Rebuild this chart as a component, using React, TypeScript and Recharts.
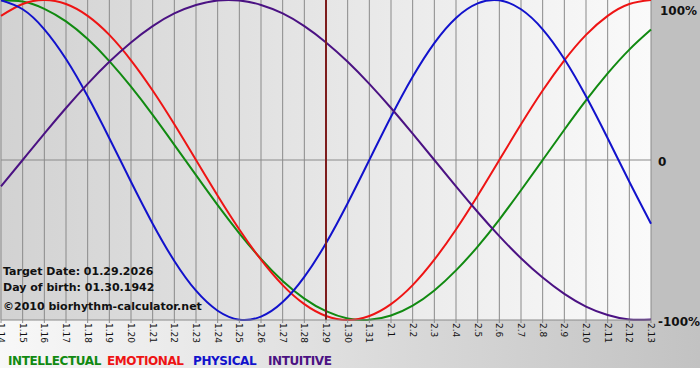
import React from "react";
import { LineChart, Line, XAxis, YAxis, CartesianGrid, ReferenceLine } from "recharts";

// Jan 14 .. Feb 13 (one point per day)
const days = [
  "1.14", "1.15", "1.16", "1.17", "1.18", "1.19", "1.20", "1.21", "1.22", "1.23",
  "1.24", "1.25", "1.26", "1.27", "1.28", "1.29", "1.30", "1.31", "2.1", "2.2",
  "2.3", "2.4", "2.5", "2.6", "2.7", "2.8", "2.9", "2.10", "2.11", "2.12", "2.13",
];

const intellectual = [
  99.9, 99.0, 94.5, 86.6, 75.6, 61.8, 45.8, 28.2, 9.5, -9.5,
  -28.2, -45.8, -61.8, -75.6, -86.6, -94.5, -99.0, -99.9, -97.2, -91.0,
  -81.5, -69.0, -54.1, -37.2, -18.9, 0, 18.9, 37.2, 54.1, 69.0, 81.5,
];
const emotional = [
  90.1, 97.5, 100, 97.5, 90.1, 78.2, 62.3, 43.4, 22.3, 0,
  -22.3, -43.4, -62.3, -78.2, -90.1, -97.5, -100, -97.5, -90.1, -78.2,
  -62.3, -43.4, -22.3, 0, 22.3, 43.4, 62.3, 78.2, 90.1, 97.5, 100,
];
const physical = [
  99.8, 94.2, 81.7, 63.1, 39.8, 13.6, -13.6, -39.8, -63.1, -81.7,
  -94.2, -99.8, -97.9, -88.8, -73.1, -52.0, -27.0, 0, 27.0, 52.0,
  73.1, 88.8, 97.9, 99.8, 94.2, 81.7, 63.1, 39.8, 13.6, -13.6, -39.8,
];
const intuitive = [
  -16.5, 0, 16.5, 32.5, 47.6, 61.4, 73.5, 83.7, 91.6, 96.9,
  99.7, 99.7, 96.9, 91.6, 83.7, 73.5, 61.4, 47.6, 32.5, 16.5,
  0, -16.5, -32.5, -47.6, -61.4, -73.5, -83.7, -91.6, -96.9, -99.7, -99.7,
];

const yTicks = [-100, 0, 100];
const targetDay = "1.29";
const infoLines = ["Target Date: 01.29.2026", "Day of birth: 01.30.1942", "\u00a92010 biorhythm-calculator.net"];

const series = [
  { key: "intellectual", label: "INTELLECTUAL", color: "#118a11", left: 8 },
  { key: "emotional", label: "EMOTIONAL", color: "#ee1414", left: 107 },
  { key: "physical", label: "PHYSICAL", color: "#1212cc", left: 193 },
  { key: "intuitive", label: "INTUITIVE", color: "#4b1283", left: 268 },
];

const data = days.map((day, i) => ({
  i,
  day,
  intellectual: intellectual[i],
  emotional: emotional[i],
  physical: physical[i],
  intuitive: intuitive[i],
}));

const font = "'DejaVu Sans', Verdana, sans-serif";

function DayTick(props: any) {
  const { x, y, payload } = props;
  return (
    <text
      x={x}
      y={y}
      transform={`rotate(90, ${x}, ${y})`}
      dy="0.35em"
      textAnchor="start"
      fontSize={9}
      fontFamily={font}
      fill="#111"
    >
      {days[payload.value]}
    </text>
  );
}

function PctTick(props: any) {
  const { x, y, payload } = props;
  const v = payload.value;
  const label = v === 0 ? "0" : `${v}%`;
  return (
    <text
      x={v === 100 ? x + 2 : x}
      y={Math.max(y + 2, 7)}
      dominantBaseline="central"
      textAnchor="start"
      fontSize={12}
      fontWeight="bold"
      fontFamily={font}
      fill="#111"
    >
      {label}
    </text>
  );
}

export default function App() {
  return (
    <div style={{ position: "absolute", left: 0, top: 0, width: 700, height: 380, background: "#fff", overflow: "hidden" }}>
      <div style={{ position: "absolute", left: 0, top: 0, width: 651, height: 320, background: "linear-gradient(to right, #d2d2d2, #fafafa)" }} />
      <div style={{ position: "absolute", left: 651, top: 0, width: 49, height: 320, background: "#c0c0c0" }} />
      <div style={{ position: "absolute", left: 0, top: 320, width: 700, height: 48, background: "linear-gradient(to right, #f8f8f8, #c2c2c2)" }} />
      <div style={{ position: "absolute", left: 0, top: 0 }}>
        <LineChart width={700} height={350} data={data} margin={{ top: 0, right: 0, bottom: 0, left: 1 }}>
          <CartesianGrid horizontal={false} stroke="#8a8a8a" strokeWidth={1} />
          <XAxis
            type="number"
            dataKey="i"
            domain={[0, days.length - 1]}
            ticks={days.map((_, i) => i)}
            interval={0}
            height={30}
            tick={<DayTick />}
            tickSize={3}
            tickMargin={0}
            tickLine={{ stroke: "#8a8a8a" }}
            axisLine={{ stroke: "#8a8a8a" }}
          />
          <YAxis
            orientation="right"
            width={49}
            domain={[-100, 100]}
            ticks={yTicks}
            axisLine={false}
            tickLine={false}
            tickSize={0}
            tickMargin={7}
            tick={<PctTick />}
          />
          <ReferenceLine y={0} stroke="#8a8a8a" strokeWidth={1} />
          {series.map((s) => (
            <Line
              key={s.key}
              type="natural"
              dataKey={s.key}
              stroke={s.color}
              strokeWidth={2}
              dot={false}
              isAnimationActive={false}
            />
          ))}
          <ReferenceLine x={days.indexOf(targetDay)} stroke="#7d1c1c" strokeWidth={2} />
        </LineChart>
      </div>
      <div style={{ position: "absolute", left: 3, top: 264, fontFamily: font, fontWeight: "bold", fontSize: 11, color: "#111", lineHeight: "16px" }}>
        <div>{infoLines[0]}</div>
        <div>{infoLines[1]}</div>
        <div style={{ marginTop: 3 }}>{infoLines[2]}</div>
      </div>
      {series.map((s) => (
        <span
          key={s.key}
          style={{ position: "absolute", left: s.left, top: 354, fontFamily: font, fontWeight: "bold", fontSize: 12, letterSpacing: -0.4, whiteSpace: "nowrap", color: s.color }}
        >
          {s.label}
        </span>
      ))}
    </div>
  );
}
